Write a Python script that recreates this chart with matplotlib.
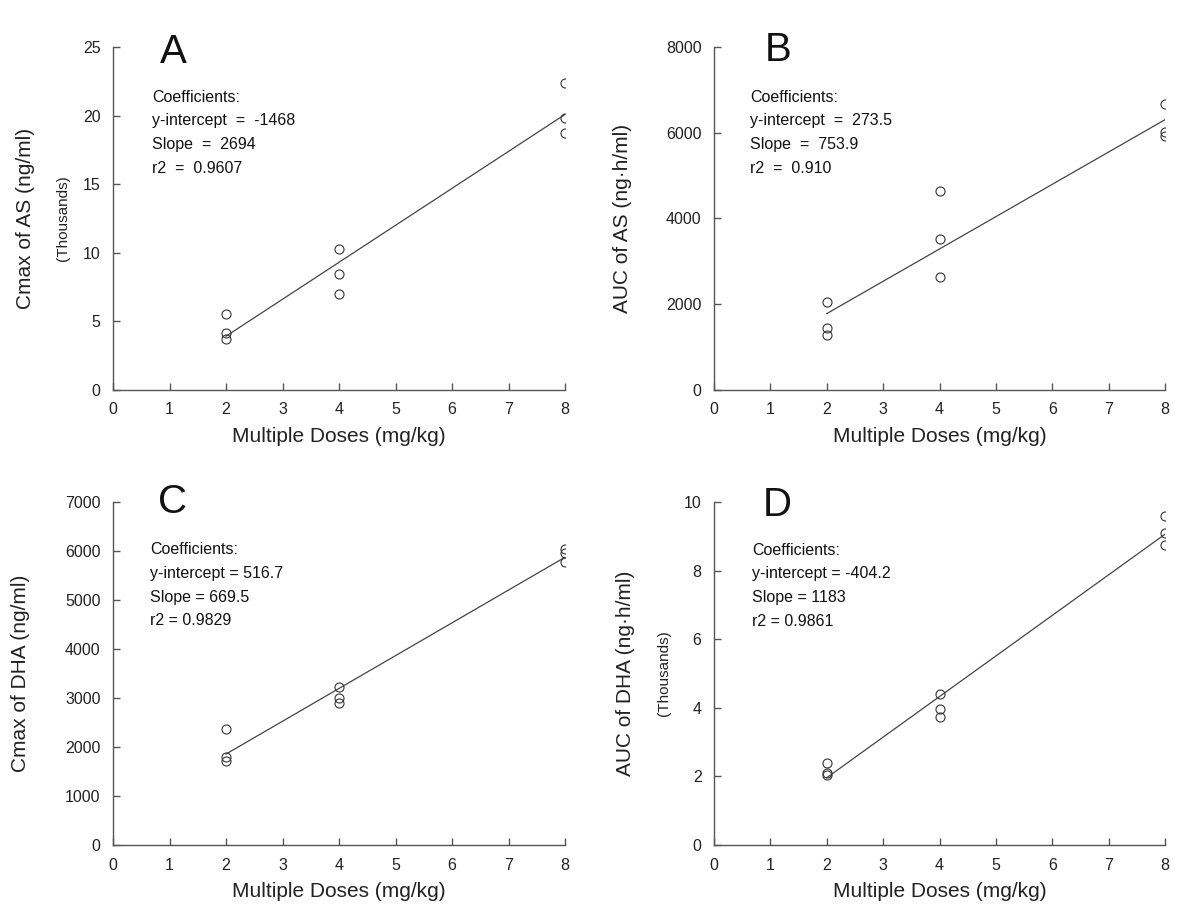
import matplotlib
matplotlib.use("Agg")
import matplotlib.pyplot as plt
import numpy as np

plt.rcParams['font.family'] = ['Liberation Sans', 'DejaVu Sans']

# ---- data ----
dose_x = [2, 2, 2, 4, 4, 4, 8, 8, 8]

a_cmax_as = [5.52, 4.13, 3.70, 10.28, 8.48, 6.98, 22.38, 19.83, 18.73]      # thousands ng/ml
b_auc_as = [2059, 1439, 1283, 4641, 3522, 2643, 6670, 6025, 5924]             # ng.h/ml
c_cmax_dha = [2361, 1790, 1714, 3231, 2994, 2904, 6050, 5950, 5770]           # ng/ml
d_auc_dha = [2.38, 2.11, 2.04, 4.39, 3.96, 3.74, 9.60, 9.10, 8.75]            # thousands ng.h/ml

# regression coefficients (intercept, slope) in the axis units
a_fit = [-1.468, 2.694]
b_fit = [273.5, 753.9]
c_fit = [516.7, 669.5]
d_fit = [-0.4042, 1.183]

a_text = ["Coefficients:", "y-intercept  =  -1468", "Slope  =  2694", "r2  =  0.9607"]
b_text = ["Coefficients:", "y-intercept  =  273.5", "Slope  =  753.9", "r2  =  0.910"]
c_text = ["Coefficients:", "y-intercept = 516.7", "Slope = 669.5", "r2 = 0.9829"]
d_text = ["Coefficients:", "y-intercept = -404.2", "Slope = 1183", "r2 = 0.9861"]

x_ticks = [0, 1, 2, 3, 4, 5, 6, 7, 8]
a_yticks = [0, 5, 10, 15, 20, 25]
b_yticks = [0, 2000, 4000, 6000, 8000]
c_yticks = [0, 1000, 2000, 3000, 4000, 5000, 6000, 7000]
d_yticks = [0, 2, 4, 6, 8, 10]

fig = plt.figure(figsize=(12, 9.19), dpi=100)
W, H = 1200, 919

def axes_at(left, right, top, bottom):
    return fig.add_axes([left / W, 1 - bottom / H, (right - left) / W, (bottom - top) / H])

panels = [
    dict(box=(113, 565, 47, 390), y=a_cmax_as, fit=a_fit, txt=a_text, yt=a_yticks,
         letter="A", lpos=(0.104, 0.985), tpos=(0.086, 0.854),
         ylabel="Cmax of AS (ng/ml)", ylx=-0.172, thous=-0.111),
    dict(box=(714, 1165, 47, 390), y=b_auc_as, fit=b_fit, txt=b_text, yt=b_yticks,
         letter="B", lpos=(0.113, 0.99), tpos=(0.080, 0.854),
         ylabel="AUC of AS (ng\u00b7h/ml)", ylx=-0.182, thous=None),
    dict(box=(113, 565, 502, 845), y=c_cmax_dha, fit=c_fit, txt=c_text, yt=c_yticks,
         letter="C", lpos=(0.100, 1.0), tpos=(0.082, 0.862),
         ylabel="Cmax of DHA (ng/ml)", ylx=-0.184, thous=None),
    dict(box=(714, 1165, 502, 845), y=d_auc_dha, fit=d_fit, txt=d_text, yt=d_yticks,
         letter="D", lpos=(0.108, 0.99), tpos=(0.084, 0.860),
         ylabel="AUC of DHA (ng\u00b7h/ml)", ylx=-0.175, thous=-0.111),
]

axis_col = '#555555'
for p in panels:
    ax = axes_at(*p['box'])
    ax.set_xlim(0, 8)
    ax.set_ylim(p['yt'][0], p['yt'][-1])
    for s in ['top', 'right']:
        ax.spines[s].set_visible(False)
    for s in ['left', 'bottom']:
        ax.spines[s].set_color(axis_col)
        ax.spines[s].set_linewidth(1.0)
    ax.set_xticks(x_ticks)
    ax.set_yticks(p['yt'])
    ax.tick_params(direction='in', length=5, width=1, color=axis_col,
                   labelsize=11.5, labelcolor='#222222')
    ax.tick_params(axis='x', pad=9)
    ax.tick_params(axis='y', pad=9)

    # regression line from x=2 to x=8
    xs = np.array([min(dose_x), max(dose_x)])
    ax.plot(xs, p['fit'][0] + p['fit'][1] * xs, color='#444444', lw=0.9, zorder=2)
    ax.plot(dose_x, p['y'], linestyle='none', marker='o', markersize=6.5,
            markerfacecolor='none', markeredgecolor='#333333', markeredgewidth=0.8, zorder=3)

    ax.text(p['lpos'][0], p['lpos'][1], p['letter'], transform=ax.transAxes,
            fontsize=29, ha='left', va='center', color='#111111')
    for i, line in enumerate(p['txt']):
        ax.text(p['tpos'][0], p['tpos'][1] - i * 0.0695, line, transform=ax.transAxes,
                fontsize=11.5, ha='left', va='center', color='#111111')

    ax.set_xlabel("Multiple Doses (mg/kg)", fontsize=15, color='#222222', labelpad=7)
    ax.set_ylabel(p['ylabel'], fontsize=15, color='#222222')
    ax.yaxis.set_label_coords(p['ylx'], 0.5)
    if p['thous'] is not None:
        ax.text(p['thous'], 0.5, "(Thousands)", transform=ax.transAxes, rotation=90,
                fontsize=11, ha='center', va='center', color='#222222')

fig.savefig("out.png", dpi=100, facecolor='white')
